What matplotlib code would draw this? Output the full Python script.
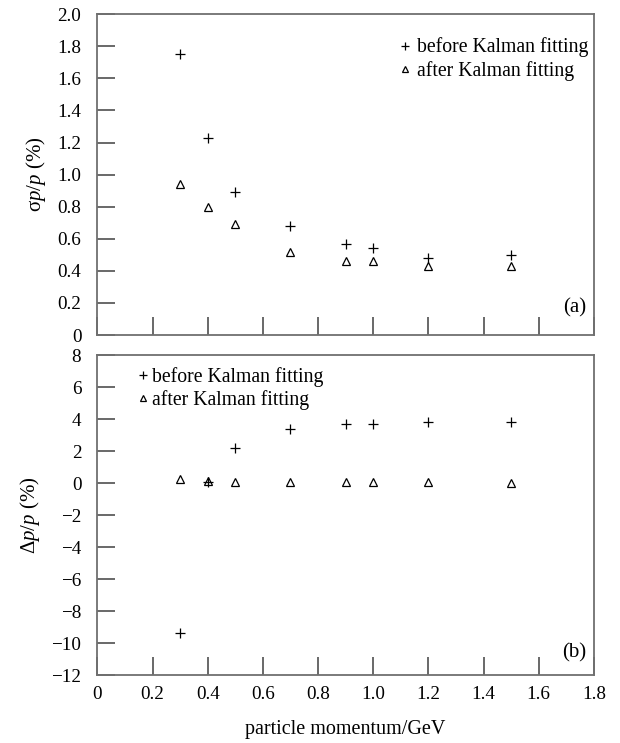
import numpy as np
import matplotlib.pyplot as plt
from matplotlib.ticker import FuncFormatter

plt.rcParams['font.family'] = ['Liberation Serif', 'DejaVu Serif']
plt.rcParams['mathtext.fontset'] = 'custom'
plt.rcParams['mathtext.rm'] = 'Liberation Serif'
plt.rcParams['mathtext.it'] = 'Liberation Serif:italic'
plt.rcParams['axes.unicode_minus'] = True

# momentum values (GeV)
momentum = [0.3, 0.4, 0.5, 0.7, 0.9, 1.0, 1.2, 1.5]

# (a) resolution sigma p / p (%)
sigma_before = [1.75, 1.225, 0.89, 0.68, 0.57, 0.545, 0.48, 0.50]
sigma_after = [0.94, 0.80, 0.69, 0.52, 0.46, 0.46, 0.43, 0.43]

# (b) bias delta p / p (%)
delta_before = [-9.4, 0.05, 2.2, 3.4, 3.7, 3.7, 3.8, 3.85]
delta_after = [0.28, 0.12, 0.07, 0.05, 0.05, 0.05, 0.05, 0.0]

spine_col = '#707070'
tick_fs = 13.8
leg_fs = 14.2
lab_fs = 15

fig = plt.figure(figsize=(6.2, 7.43), dpi=100)
ax1 = fig.add_axes([0.157, 0.549, 0.801, 0.432])
ax2 = fig.add_axes([0.157, 0.0915, 0.801, 0.4305])


def style(ax):
    for s in ax.spines.values():
        s.set_color(spine_col)
        s.set_linewidth(1.3)
    ax.tick_params(direction='in', length=13, width=1.1, color='#404040',
                   labelsize=tick_fs, top=False, right=False)
    ax.tick_params(axis='y', pad=11.5)
    ax.tick_params(axis='x', pad=8)
    ax.set_xlim(0, 1.8)
    ax.set_xticks(np.arange(0, 1.81, 0.2))


for ax in (ax1, ax2):
    style(ax)

mk = dict(color='black', linestyle='none')
fmt = FuncFormatter(lambda v, p: '0' if abs(v) < 1e-9 else f'{v:.1f}')
leg_kw = dict(frameon=False, fontsize=leg_fs, handlelength=0.4, markerscale=0.75,
              borderaxespad=0, borderpad=0, labelspacing=0.17)

ax1.plot(momentum, sigma_before, marker='+', markersize=7, markeredgewidth=0.9,
         label='before Kalman fitting', **mk)
ax1.plot(momentum, sigma_after, marker='^', markersize=6, markerfacecolor='none',
         markeredgewidth=0.9, label='after Kalman fitting', **mk)
ax1.set_ylim(0, 2.0)
ax1.set_yticks(np.arange(0, 2.01, 0.2))
ax1.yaxis.set_major_formatter(fmt)
ax1.tick_params(axis='x', labelbottom=False)
ax1.set_ylabel('σ$p/p$ (%)', fontsize=lab_fs, labelpad=7)
ax1.text(0.985, 0.055, '(a)', transform=ax1.transAxes, ha='right', va='bottom', fontsize=15)
ax1.legend(loc='upper right', bbox_to_anchor=(0.988, 0.927), handletextpad=0.4, **leg_kw)

ax2.plot(momentum, delta_before, marker='+', markersize=7, markeredgewidth=0.9,
         label='before Kalman fitting', **mk)
ax2.plot(momentum, delta_after, marker='^', markersize=6, markerfacecolor='none',
         markeredgewidth=0.9, label='after Kalman fitting', **mk)
ax2.set_ylim(-12, 8)
ax2.set_yticks(np.arange(-12, 8.1, 2))
ax2.xaxis.set_major_formatter(fmt)
ax2.set_ylabel('Δ$p/p$ (%)', fontsize=lab_fs, labelpad=7)
ax2.set_xlabel('particle momentum/GeV', fontsize=14.5, labelpad=12)
ax2.text(0.985, 0.04, '(b)', transform=ax2.transAxes, ha='right', va='bottom', fontsize=15)
ax2.legend(loc='upper left', bbox_to_anchor=(0.084, 0.964), handletextpad=0.25, **leg_kw)

fig.savefig('out.png', dpi=100)
